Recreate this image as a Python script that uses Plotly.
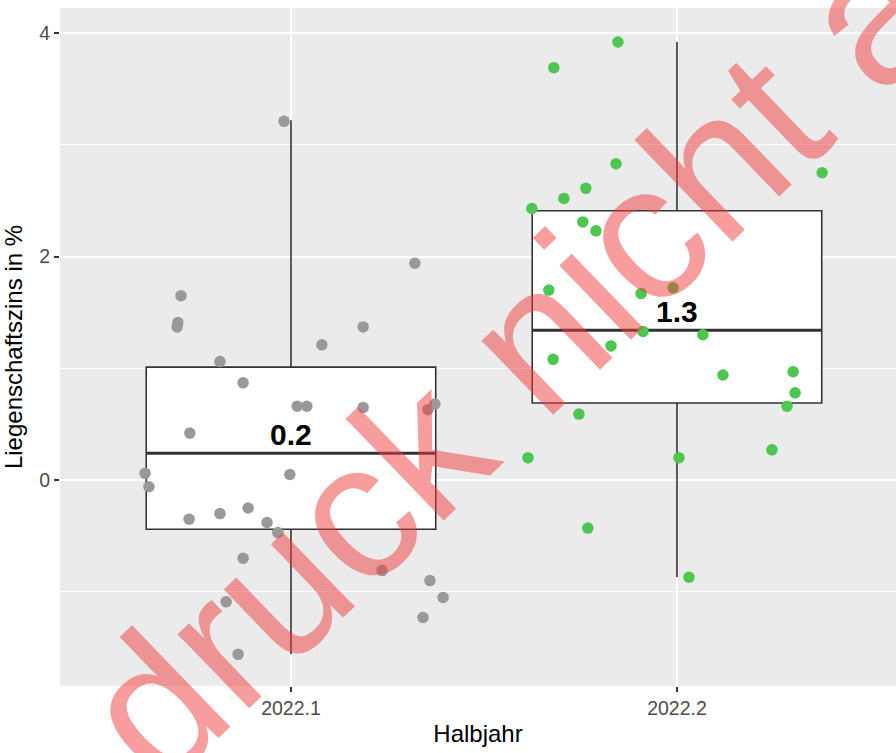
import plotly.graph_objects as go

# Half-year groups and their axis labels
categories = ["2022.1", "2022.2"]
cat_pos = [1, 2]

# Box statistics per half-year (Liegenschaftszins in %)
q1 = [-0.44, 0.69]
median = [0.24, 1.34]
q3 = [1.01, 2.41]
lower_whisker = [-1.56, -0.87]
upper_whisker = [3.22, 3.92]

# Individual observations, 2022.1 (jitter offset, value)
h1_jitter = [-0.018, -0.285, -0.293, -0.295, 0.321, 0.080, 0.187, -0.184, -0.124, 0.016,
             0.041, 0.187, 0.355, 0.373, -0.262, -0.378, -0.368, -0.003, -0.264, -0.184,
             -0.111, -0.062, -0.034, -0.124, -0.168, -0.137, 0.236, 0.360, 0.394, 0.342]
h1_values = [3.21, 1.65, 1.41, 1.37, 1.94, 1.21, 1.37, 1.06, 0.87, 0.66,
             0.66, 0.65, 0.63, 0.68, 0.42, 0.06, -0.06, 0.05, -0.35, -0.30,
             -0.25, -0.38, -0.47, -0.70, -1.09, -1.56, -0.81, -0.90, -1.05, -1.23]

# Individual observations, 2022.2 (jitter offset, value)
h2_jitter = [-0.153, -0.319, -0.158, 0.376, -0.236, -0.293, -0.376, -0.244, -0.210, -0.332,
             -0.093, -0.010, -0.088, 0.067, -0.171, -0.321, 0.119, 0.301, 0.306, 0.285,
             -0.254, -0.386, 0.005, 0.246, -0.231, 0.031]
h2_values = [3.92, 3.69, 2.83, 2.75, 2.61, 2.52, 2.43, 2.31, 2.23, 1.70,
             1.67, 1.72, 1.33, 1.30, 1.20, 1.08, 0.94, 0.97, 0.78, 0.66,
             0.59, 0.20, 0.20, 0.27, -0.43, -0.87]

point_colors = ["#999999", "#4CC750"]
box_width = 0.75

fig = go.Figure()

# Boxes from the precomputed statistics
for i, pos in enumerate(cat_pos):
    fig.add_trace(go.Box(
        x=[pos], q1=[q1[i]], median=[median[i]], q3=[q3[i]],
        lowerfence=[lower_whisker[i]], upperfence=[upper_whisker[i]],
        width=box_width, whiskerwidth=0, boxpoints=False,
        fillcolor="white", line=dict(color="#333333", width=1.6),
        hoverinfo="skip",
    ))
    # heavier median bar
    fig.add_trace(go.Scatter(
        x=[pos - box_width / 2, pos + box_width / 2], y=[median[i], median[i]],
        mode="lines", line=dict(color="#333333", width=3), hoverinfo="skip",
    ))

# Jittered points
for pos, jit, vals, col in [(cat_pos[0], h1_jitter, h1_values, point_colors[0]),
                            (cat_pos[1], h2_jitter, h2_values, point_colors[1])]:
    fig.add_trace(go.Scatter(
        x=[pos + j for j in jit], y=vals, mode="markers",
        marker=dict(size=11.5, color=col, line=dict(width=0)),
        hoverinfo="skip",
    ))

# Median labels
for pos, m in zip(cat_pos, median):
    fig.add_annotation(
        x=pos, y=m, text=f"<b>{m:.1f}</b>", showarrow=False,
        xanchor="center", yanchor="bottom",
        font=dict(family="Liberation Sans, Arial, sans-serif", size=30, color="black"),
    )

# Watermark across the chart
fig.add_annotation(
    xref="paper", yref="paper", x=(512 - 60) / 836, y=(686 - 360) / 678,
    text="druck nicht a", showarrow=False, textangle=-44,
    xanchor="center", yanchor="middle",
    font=dict(family="Liberation Sans, Arial, sans-serif", size=195,
              color="rgba(240,60,60,0.5)"),
)

fig.update_layout(
    width=896, height=753,
    margin=dict(l=60, r=0, t=8, b=67),
    plot_bgcolor="#EBEBEB", paper_bgcolor="white",
    showlegend=False,
    font=dict(family="Liberation Sans, Arial, sans-serif"),
)

fig.update_xaxes(
    range=[0.4016, 2.5674], tickvals=cat_pos, ticktext=categories,
    showgrid=True, gridcolor="white", gridwidth=2.2, zeroline=False,
    ticks="outside", ticklen=5, tickwidth=1.5, tickcolor="#333333",
    tickfont=dict(size=19.5, color="#4D4D4D"),
    title=dict(text="Halbjahr", font=dict(size=24, color="black"), standoff=6),
)

fig.update_yaxes(
    range=[-1.843, 4.224], tickvals=[0, 2, 4], ticktext=["0", "2", "4"],
    showgrid=True, gridcolor="white", gridwidth=2.2, zeroline=False,
    ticks="outside", ticklen=5, tickwidth=1.5, tickcolor="#333333",
    tickfont=dict(size=19.5, color="#4D4D4D"),
    minor=dict(tickvals=[-1, 1, 3], showgrid=True, gridcolor="white", gridwidth=1.1, ticks=""),
    title=dict(text="Liegenschaftszins in %", font=dict(size=24, color="black"), standoff=9),
)

fig.write_html("out.html")
